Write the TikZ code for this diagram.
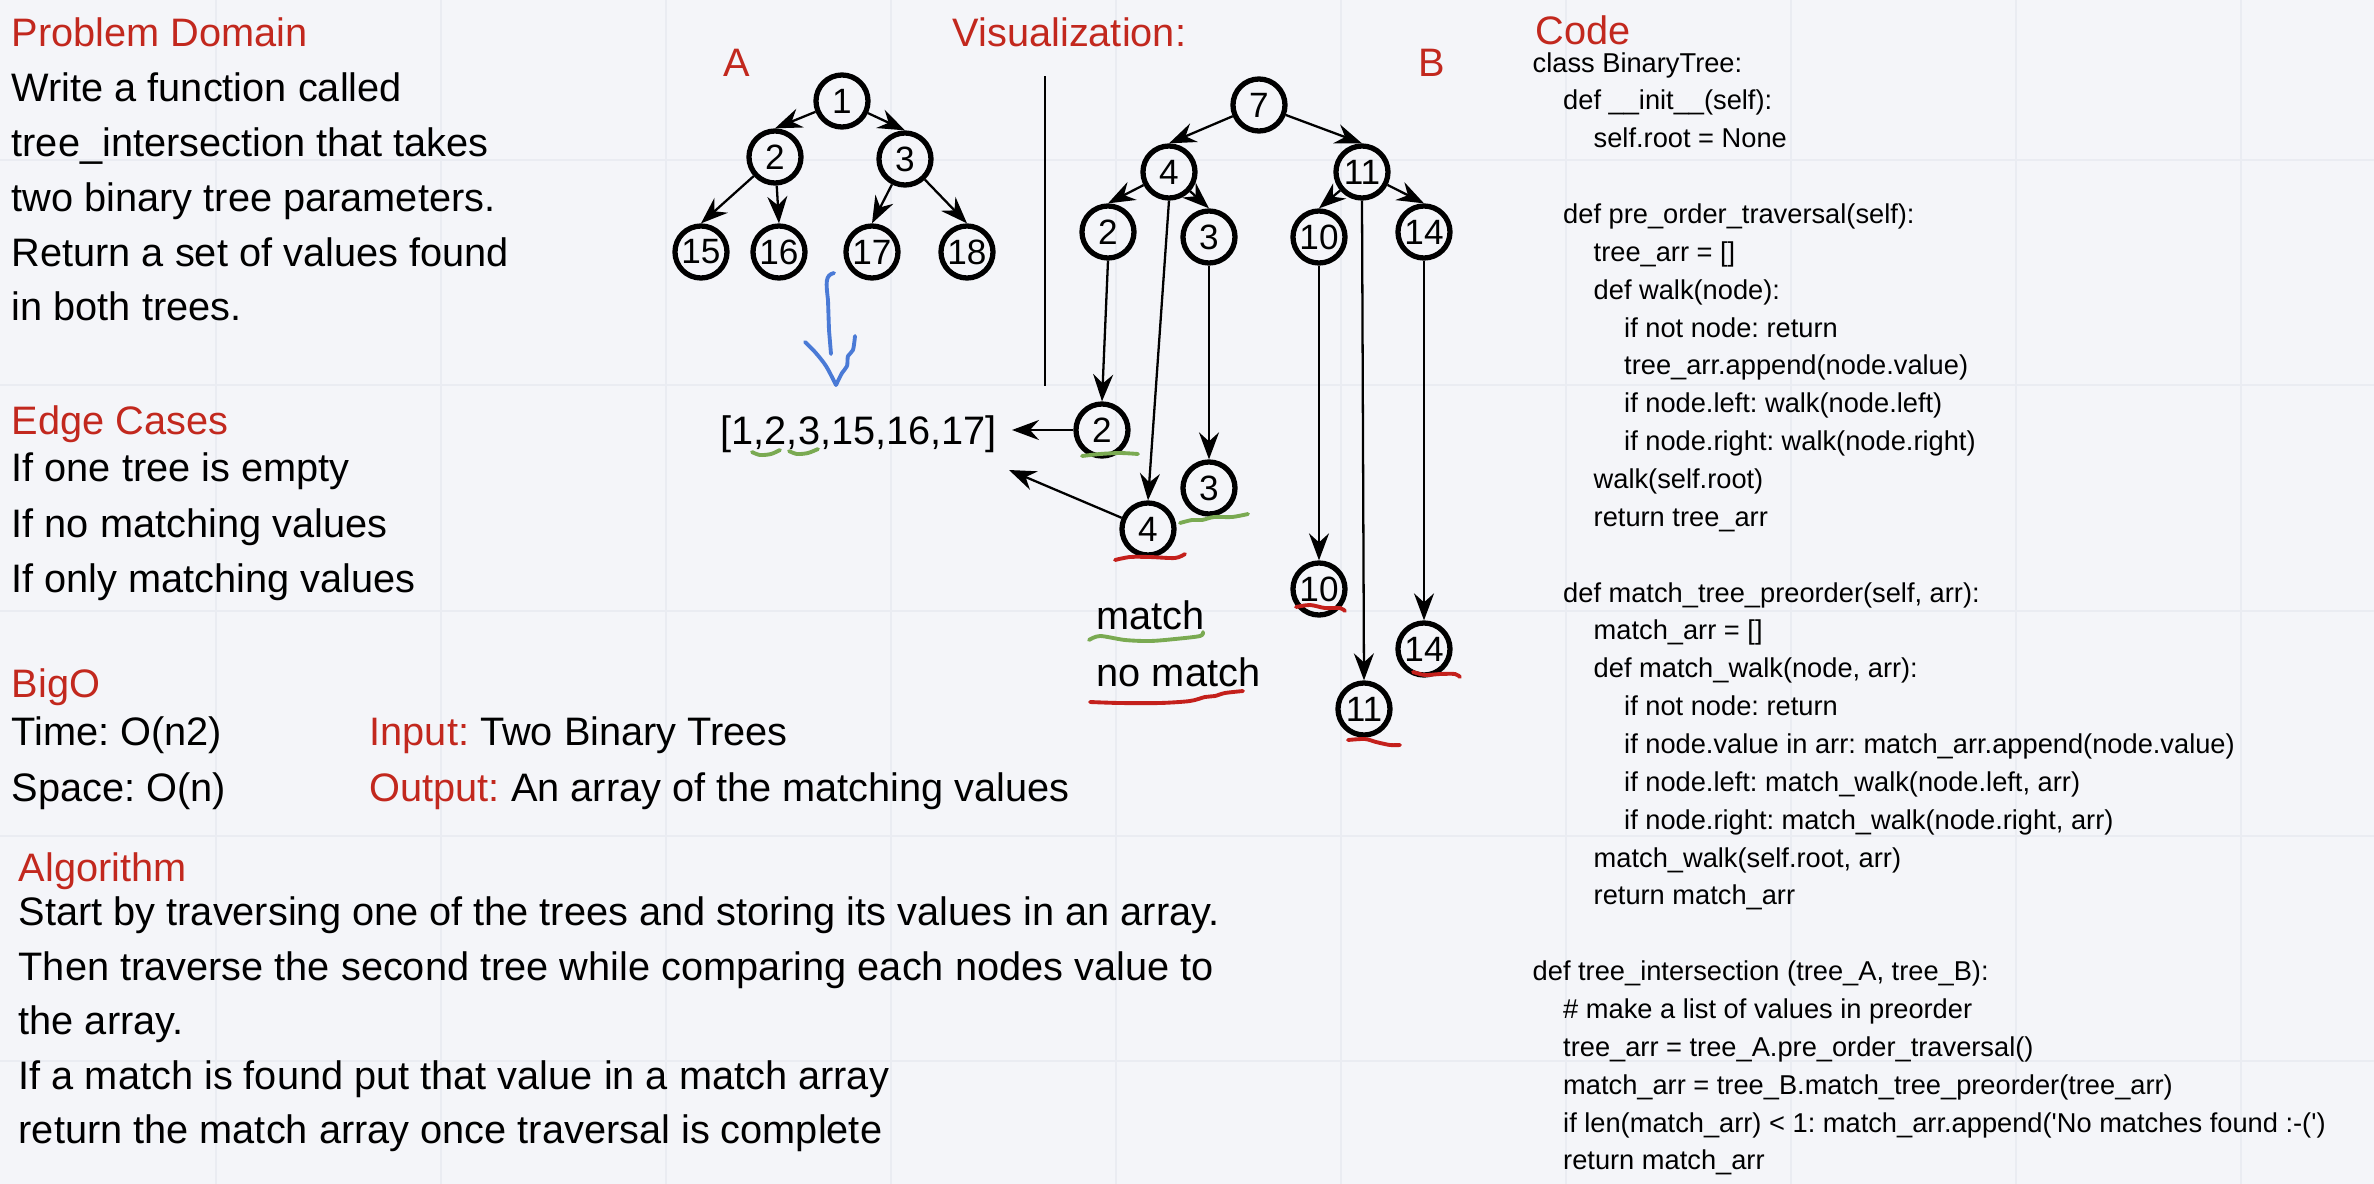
\documentclass[tikz,border=0pt]{standalone}
\usepackage{fontspec}
\setmainfont{Liberation Sans}
\usetikzlibrary{arrows.meta}
\frenchspacing

\definecolor{titlered}{RGB}{194,40,30}
\definecolor{markgreen}{RGB}{122,170,82}
\definecolor{markred}{RGB}{196,32,28}
\definecolor{penblue}{RGB}{74,122,214}
\definecolor{boardbg}{RGB}{244,245,249}
\definecolor{boardgrid}{RGB}{234,236,242}

\tikzset{
  txt/.style={anchor=base west, inner sep=0pt, font=\fontsize{11.3}{13}\selectfont},
  head/.style={txt, text=titlered},
  codeline/.style={anchor=base west, inner sep=0pt, font=\fontsize{7.75}{9}\selectfont},
  treenode/.style={circle, draw, line width=1.5pt, minimum size=0.52cm, inner sep=0pt, font=\fontsize{10}{11}\selectfont},
  treearrow/.style={line width=0.65pt, -{Stealth[length=0.27cm, width=0.2cm, inset=0.09cm]}},
  hmark/.style={line width=1.1pt, line cap=round, line join=round},
}

\begin{document}
\begin{tikzpicture}[x=0.01cm, y=-0.01cm]
        % Board background and grid
        \useasboundingbox (0,0) rectangle (2374,1184);
        \fill[boardbg] (0,0) rectangle (2374,1184);
        \foreach \gx in {216,441,666,891,1116,1341,1566,1791,2016,2241}
            \draw[boardgrid, line width=0.5pt] (\gx,0) -- (\gx,1184);
        \foreach \gy in {160,385,611,836,1061}
            \draw[boardgrid, line width=0.5pt] (0,\gy) -- (2374,\gy);

        % Problem domain
        \node[head] (pdtitle) at (11,46) {Problem Domain};
        \node[txt] (pd1) at (11,101) {Write a function called};
        \node[txt] (pd2) at (11,156) {tree\_intersection that takes};
        \node[txt] (pd3) at (11,211) {two binary tree parameters.};
        \node[txt] (pd4) at (11,266) {Return a set of values found};
        \node[txt] (pd5) at (11,320) {in both trees.};

        % Edge cases
        \node[head] (ectitle) at (11,434) {Edge Cases};
        \node[txt] (ec1) at (11,481) {If one tree is empty};
        \node[txt] (ec2) at (11,537) {If no matching values};
        \node[txt] (ec3) at (11,592) {If only matching values};

        % Big O, input and output
        \node[head] (bigotitle) at (11,697) {BigO};
        \node[txt] (timeo) at (11,745) {Time: O(n2)};
        \node[txt] (spaceo) at (11,801) {Space: O(n)};
        \node[txt] (inputl) at (369,745) {{\color{titlered}Input:} Two Binary Trees};
        \node[txt] (outputl) at (369,801) {{\color{titlered}Output:} An array of the matching values};

        % Algorithm
        \node[head] (algtitle) at (18,881) {Algorithm};
        \node[txt] (alg1) at (18,925) {Start by traversing one of the trees and storing its values in an array.};
        \node[txt] (alg2) at (18,980) {Then traverse the second tree while comparing each nodes value to};
        \node[txt] (alg3) at (18,1034) {the array.};
        \node[txt] (alg4) at (18,1089) {If a match is found put that value in a match array};
        \node[txt] (alg5) at (18,1143) {return the match array once traversal is complete};

        % Visualization labels
        \node[head] (vistitle) at (952,46) {Visualization:};
        \node[head, anchor=base] (labA) at (737,76) {A};
        \node[head, anchor=base] (labB) at (1432,76) {B};
        \draw[line width=0.8pt] (1045,76) -- (1045,386);

        % Tree A
        \node[treenode] (a1) at (842,101) {1};
        \node[treenode] (a2) at (775,157) {2};
        \node[treenode] (a3) at (905,159) {3};
        \node[treenode] (a15) at (701,252) {15};
        \node[treenode] (a16) at (779,252) {16};
        \node[treenode] (a17) at (872,252) {17};
        \node[treenode] (a18) at (967,252) {18};
        \draw[treearrow] (a1) -- (a2.north);
        \draw[treearrow] (a1) -- (a3.north);
        \draw[treearrow] (a2) -- (a15.north);
        \draw[treearrow] (a2) -- (a16.north);
        \draw[treearrow] (a3) -- (a17.north);
        \draw[treearrow] (a3) -- (a18.north);

        % Tree A as an array
        \draw[penblue, hmark] (834,273) .. controls (825,275) and (826,283) .. (828,300) -- (829,330) -- (831,354);
        \draw[penblue, hmark] plot[smooth] coordinates {(805,342) (815,352) (826,366) (836,385)};
        \draw[penblue, hmark] plot[smooth] coordinates {(855,336) (853,350) (848,356) (847,366) (842,373) (836,385)};
        \node[txt] (arr) at (720,444) {[1,2,3,15,16,17]};
        \draw[markgreen, hmark] plot[smooth] coordinates {(752,452) (760,455) (771,454) (780,450)};
        \draw[markgreen, hmark] plot[smooth] coordinates {(789,451) (797,454) (808,453) (818,449)};

        % Tree B
        \node[treenode] (b7) at (1259,105) {7};
        \node[treenode] (b4) at (1169,172) {4};
        \node[treenode] (b11) at (1362,172) {11};
        \node[treenode] (b2) at (1108,232) {2};
        \node[treenode] (b3) at (1209,237) {3};
        \node[treenode] (b10) at (1319,237) {10};
        \node[treenode] (b14) at (1424,232) {14};
        \draw[treearrow] (b7) -- (b4.north);
        \draw[treearrow] (b7) -- (b11.north);
        \draw[treearrow] (b4) -- (b2.north);
        \draw[treearrow] (b4) -- (b3.north);
        \draw[treearrow] (b11) -- (b10.north);
        \draw[treearrow] (b11) -- (b14.north);

        % Tree B in preorder
        \node[treenode] (r2) at (1102,430) {2};
        \node[treenode] (r3) at (1209,488) {3};
        \node[treenode] (r4) at (1148,529) {4};
        \node[treenode] (r10) at (1319,589) {10};
        \node[treenode] (r14) at (1424,649) {14};
        \node[treenode] (r11) at (1364,709) {11};
        \draw[treearrow] (b2.south) -- (r2.north);
        \draw[treearrow] (b4.south) -- (r4.north);
        \draw[treearrow] (b3.south) -- (r3.north);
        \draw[treearrow] (b10.south) -- (r10.north);
        \draw[treearrow] (b11.south) -- (r11.north);
        \draw[treearrow] (b14.south) -- (r14.north);
        \coordinate (tip2) at (1012,430);
        \coordinate (tip4) at (1009,470);
        \draw[treearrow] (r2) -- (tip2);
        \draw[treearrow] (r4) -- (tip4);

        % Match marks
        \draw[markgreen, hmark] plot[smooth] coordinates {(1082,456) (1100,454) (1120,453) (1138,454)};
        \draw[markgreen, hmark] plot[smooth] coordinates {(1180,523) (1192,520) (1202,520) (1214,517) (1232,517) (1248,514)};
        \draw[markred, hmark] plot[smooth] coordinates {(1115,560) (1130,557) (1150,557) (1175,558) (1185,554)};
        \draw[markred, hmark] plot[smooth] coordinates {(1296,607) (1310,605) (1325,608) (1340,608) (1345,611)};
        \draw[markred, hmark] plot[smooth] coordinates {(1413,672) (1425,675) (1440,674) (1455,674) (1460,677)};
        \draw[markred, hmark] plot[smooth] coordinates {(1348,740) (1365,739) (1376,742) (1390,745) (1400,745)};

        % Key
        \node[txt] (matchkey) at (1096,629) {match};
        \node[txt] (nomatchkey) at (1096,686) {no match};
        \draw[markgreen, hmark] plot[smooth] coordinates {(1089,640) (1100,636) (1125,640) (1150,641) (1175,639) (1200,636) (1203,632)};
        \draw[markred, hmark] plot[smooth] coordinates {(1090,702) (1120,703) (1160,703) (1190,701) (1205,697) (1215,696) (1225,693) (1243,691)};

        % Code
        \node[head] (codetitle) at (1535,44) {Code};
        \foreach \i/\lvl/\txt in {
            0/0/{class BinaryTree:},
            1/1/{def \_\_init\_\_(self):},
            2/2/{self.root = None},
            4/1/{def pre\_order\_traversal(self):},
            5/2/{tree\_arr = []},
            6/2/{def walk(node):},
            7/3/{if not node: return},
            8/3/{tree\_arr.append(node.value)},
            9/3/{if node.left: walk(node.left)},
            10/3/{if node.right: walk(node.right)},
            11/2/{walk(self.root)},
            12/2/{return tree\_arr},
            14/1/{def match\_tree\_preorder(self, arr):},
            15/2/{match\_arr = []},
            16/2/{def match\_walk(node, arr):},
            17/3/{if not node: return},
            18/3/{if node.value in arr: match\_arr.append(node.value)},
            19/3/{if node.left: match\_walk(node.left, arr)},
            20/3/{if node.right: match\_walk(node.right, arr)},
            21/2/{match\_walk(self.root, arr)},
            22/2/{return match\_arr},
            24/0/{def tree\_intersection (tree\_A, tree\_B):},
            25/1/{\# make a list of values in preorder},
            26/1/{tree\_arr = tree\_A.pre\_order\_traversal()},
            27/1/{match\_arr = tree\_B.match\_tree\_preorder(tree\_arr)},
            28/1/{if len(match\_arr) < 1: match\_arr.append(\textquotesingle No matches found :-(\textquotesingle)},
            29/1/{return match\_arr}}
            \node[codeline] (code\i) at ({1532+30.5*\lvl},{72+37.86*\i}) {\txt};
    \end{tikzpicture}
\end{document}
